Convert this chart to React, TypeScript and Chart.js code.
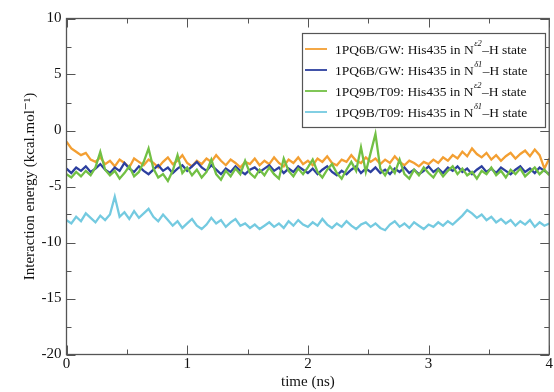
import React, { useEffect, useRef } from "react";
import { Chart, registerables } from "chart.js";

Chart.register(...registerables);

const TIME_STEP = 0.04; // ns between samples
const X_TICKS = [0, 1, 2, 3, 4];
const Y_TICKS = [-20, -15, -10, -5, 0, 5, 10];

const SERIES_NAMES = [
  "1PQ6B/GW: His435 in N",
  "1PQ6B/GW: His435 in N",
  "1PQ9B/T09: His435 in N",
  "1PQ9B/T09: His435 in N",
];
const SERIES_SUPS = ["ε2", "δ1", "ε2", "δ1"];
const SERIES_TAIL = "–H state";

const orange = [
  -1.0, -1.6, -1.9, -2.2, -2.0, -2.6, -2.8, -2.4, -3.0, -2.7,
  -3.2, -2.6, -2.9, -3.3, -2.5, -2.8, -3.1, -2.6, -2.9, -3.3,
  -2.8, -2.4, -3.0, -2.7, -2.2, -2.9, -3.2, -2.7, -3.0, -2.5,
  -2.8, -2.2, -2.7, -3.1, -2.6, -2.9, -3.3, -2.8, -3.0, -2.5,
  -3.1, -2.7, -3.0, -2.4, -2.9, -3.2, -2.6, -2.9, -2.4, -3.0,
  -2.7, -3.1, -2.5, -2.8, -2.3, -2.9, -3.1, -2.6, -2.8, -2.2,
  -2.7, -2.9, -2.4, -2.8, -2.5, -3.0, -2.6, -2.9, -2.3, -2.8,
  -3.1, -2.7, -2.9, -3.2, -2.8, -3.0, -2.6, -2.9, -2.4, -2.7,
  -2.2, -2.5, -1.9, -2.3, -1.6, -2.1, -2.4, -2.0, -2.6, -2.2,
  -2.7, -2.3, -2.0, -2.5, -2.1, -1.8, -2.3, -1.7, -2.2, -3.4,
  -2.5,
];

const blue = [
  -3.4, -3.8, -3.3, -3.6, -3.2, -3.7, -3.4, -3.0, -3.5, -3.8,
  -3.3, -3.6, -2.9, -3.4, -3.7, -3.2, -3.6, -3.9, -3.5, -3.1,
  -3.6, -3.3, -3.8, -3.4, -3.1, -3.6, -3.2, -2.8, -3.3, -3.6,
  -3.1, -3.5, -3.9, -3.4, -3.7, -3.2, -3.6, -3.9, -3.5, -3.3,
  -3.7, -3.4, -3.1, -3.6, -3.3, -3.8, -3.4, -3.7, -3.2, -3.5,
  -3.8, -3.4, -3.9, -3.5, -3.2, -3.7, -4.0, -3.6, -3.9, -3.5,
  -3.2, -3.8, -3.4, -3.7, -3.3, -3.8, -3.5, -3.9, -3.4, -3.7,
  -3.3, -3.8, -3.5, -3.9, -3.6, -3.2, -3.7, -3.4, -3.8, -3.3,
  -3.6, -3.2, -3.7, -3.4, -3.9, -3.5, -3.2, -3.7, -3.4, -3.8,
  -3.3, -3.6, -3.9, -3.5, -3.2, -3.7, -3.4, -3.8, -3.3, -3.6,
  -3.9,
];

const green = [
  -3.9, -4.2, -3.7, -4.1, -3.6, -4.0, -3.3, -1.9, -3.5, -4.0,
  -3.6, -4.3, -3.8, -3.2, -4.1, -3.7, -2.8, -1.6, -3.4, -4.2,
  -3.9, -4.5, -3.6, -2.2, -3.8, -3.3, -4.0, -3.5, -4.2, -3.7,
  -2.6, -3.9, -4.4, -3.6, -4.1, -3.4, -3.9, -2.7, -3.8, -4.2,
  -3.5, -4.0, -3.3, -3.9, -4.3, -2.5, -3.6, -4.1, -3.4, -3.9,
  -3.3, -2.6, -3.7, -4.2, -3.5, -3.0, -3.8, -4.3, -3.5, -2.8,
  -3.6, -1.5, -3.7, -2.0, -0.3, -3.4, -4.0, -3.2, -3.8, -2.6,
  -3.9, -4.3, -3.5, -4.0, -3.3, -3.8, -4.2, -3.5, -4.1, -3.6,
  -3.2, -3.9, -3.4, -4.0, -3.7, -4.3, -3.6, -3.9, -3.3, -4.0,
  -3.6, -4.2, -3.5, -3.9, -3.4, -4.1, -3.7, -3.3, -3.9, -3.5,
  -4.0,
];

const cyan = [
  -8.0, -8.3, -7.7, -8.1, -7.4, -7.8, -8.2, -7.6, -8.0, -7.5,
  -5.9, -7.7, -7.3, -7.9, -7.2, -7.8, -7.4, -7.0, -7.7, -8.1,
  -7.5, -8.0, -8.5, -8.1, -8.7, -8.3, -7.9, -8.5, -8.8, -8.4,
  -7.8, -8.3, -8.0, -8.6, -8.2, -7.9, -8.5, -8.3, -8.7, -8.4,
  -8.8, -8.5, -8.2, -8.6, -8.3, -8.7, -8.1, -8.5, -8.0, -8.4,
  -8.6, -8.2, -8.5, -7.9, -8.4, -8.7, -8.3, -8.6, -8.1, -8.5,
  -8.8, -8.4, -8.2, -8.6, -8.3, -8.7, -8.9, -8.4, -8.1, -8.6,
  -8.3, -8.7, -8.2, -8.5, -8.8, -8.4, -8.6, -8.2, -8.5, -8.1,
  -8.4, -8.0, -7.6, -7.1, -7.4, -7.8, -7.5, -8.0, -7.7, -8.2,
  -7.9, -8.3, -8.0, -8.5, -8.1, -8.4, -8.0, -8.6, -8.2, -8.5,
  -8.3,
];

const COLORS = ["#f39f32", "#2c3f9f", "#72c044", "#74cae0"];
const SERIES = [orange, blue, green, cyan];
const DRAW_ORDER = [2, 1, 0, 3]; // lower = drawn on top

const SERIF = "'Liberation Serif', 'DejaVu Serif', serif";

const framePlugin = {
  id: "frameTicks",
  afterDatasetsDraw(chart: any) {
    const { ctx, chartArea: a, scales } = chart;
    const xs = scales.x;
    const ys = scales.y;
    ctx.save();
    ctx.strokeStyle = "#555";
    ctx.lineWidth = 1.3;
    ctx.strokeRect(a.left, a.top, a.right - a.left, a.bottom - a.top);
    ctx.lineWidth = 1;
    ctx.beginPath();
    for (let v = 0; v <= 4.0001; v += 0.5) {
      const px = Math.round(xs.getPixelForValue(v)) + 0.5;
      const len = Math.abs(v - Math.round(v)) < 1e-6 ? 9 : 5;
      ctx.moveTo(px, a.bottom);
      ctx.lineTo(px, a.bottom - len);
      ctx.moveTo(px, a.top);
      ctx.lineTo(px, a.top + len);
    }
    for (let v = -20; v <= 10.0001; v += 2.5) {
      const py = Math.round(ys.getPixelForValue(v)) + 0.5;
      const len = Math.abs(v / 5 - Math.round(v / 5)) < 1e-6 ? 9 : 5;
      ctx.moveTo(a.left, py);
      ctx.lineTo(a.left + len, py);
      ctx.moveTo(a.right, py);
      ctx.lineTo(a.right - len, py);
    }
    ctx.stroke();

    // legend
    const bx = 302, by = 33, bw = 243, bh = 94;
    ctx.fillStyle = "#ffffff";
    ctx.fillRect(bx, by, bw, bh);
    ctx.strokeStyle = "#555";
    ctx.lineWidth = 1.2;
    ctx.strokeRect(bx + 0.5, by + 0.5, bw, bh);
    for (let i = 0; i < 4; i++) {
      const y = 49 + i * 21;
      ctx.strokeStyle = COLORS[i];
      ctx.lineWidth = 1.8;
      ctx.beginPath();
      ctx.moveTo(305, y);
      ctx.lineTo(327, y);
      ctx.stroke();
      ctx.fillStyle = "#111";
      ctx.textBaseline = "middle";
      ctx.textAlign = "left";
      ctx.font = `13.5px ${SERIF}`;
      const main = SERIES_NAMES[i];
      ctx.fillText(main, 335, y + 1);
      let x = 335 + ctx.measureText(main).width;
      ctx.font = `italic 8.5px ${SERIF}`;
      ctx.fillText(SERIES_SUPS[i], x + 0.5, y - 5);
      x += ctx.measureText(SERIES_SUPS[i]).width + 1;
      ctx.font = `13.5px ${SERIF}`;
      ctx.fillText(SERIES_TAIL, x, y + 1);
    }
    ctx.restore();
  },
};

export default function App() {
  const ref = useRef<HTMLCanvasElement>(null);
  useEffect(() => {
    if (!ref.current) return;
    const datasets = SERIES.map((s, i) => ({
      label: SERIES_NAMES[i] + SERIES_SUPS[i] + SERIES_TAIL,
      data: s.map((v, k) => ({ x: k * TIME_STEP, y: v })),
      borderColor: COLORS[i],
      borderWidth: 2.3,
      pointRadius: 0,
      tension: 0,
      fill: false,
      order: DRAW_ORDER[i],
    }));
    const chart = new Chart(ref.current, {
      type: "line",
      data: { datasets },
      options: {
        animation: false,
        responsive: false,
        devicePixelRatio: 1,
        layout: { padding: { top: 18.5, right: 1.5, left: 0, bottom: 0 } },
        plugins: { legend: { display: false }, tooltip: { enabled: false } },
        scales: {
          x: {
            type: "linear",
            min: 0,
            max: 4,
            afterBuildTicks: (s: any) => {
              s.ticks = X_TICKS.map((v) => ({ value: v }));
            },
            afterFit: (s: any) => {
              s.height = 37.5;
            },
            grid: { display: false, drawTicks: false },
            border: { display: false },
            ticks: {
              padding: 1,
              color: "#111",
              font: { family: SERIF, size: 15 },
              maxRotation: 0,
              autoSkip: false,
              callback: (v: any) => String(v),
            },
            title: {
              display: true,
              text: "time (ns)",
              color: "#111",
              font: { family: SERIF, size: 15 },
              padding: { top: 0, bottom: 1 },
            },
          },
          y: {
            type: "linear",
            min: -20,
            max: 10,
            afterBuildTicks: (s: any) => {
              s.ticks = Y_TICKS.map((v) => ({ value: v }));
            },
            afterFit: (s: any) => {
              s.width = 66.5;
            },
            grid: { display: false, drawTicks: false },
            border: { display: false },
            ticks: {
              padding: 5,
              color: "#111",
              font: { family: SERIF, size: 15 },
              autoSkip: false,
              callback: (v: any) => String(v),
            },
            title: {
              display: true,
              text: "Interaction energy (kcal.mol⁻¹)",
              color: "#111",
              font: { family: SERIF, size: 15 },
              padding: { top: 21, bottom: 0 },
            },
          },
        },
      },
      plugins: [framePlugin],
    });
    return () => chart.destroy();
  }, []);
  return (
    <div style={{ position: "fixed", left: 0, top: 0, width: 554, height: 392, background: "#fff" }}>
      <canvas ref={ref} width={554} height={392} style={{ display: "block" }} />
    </div>
  );
}
